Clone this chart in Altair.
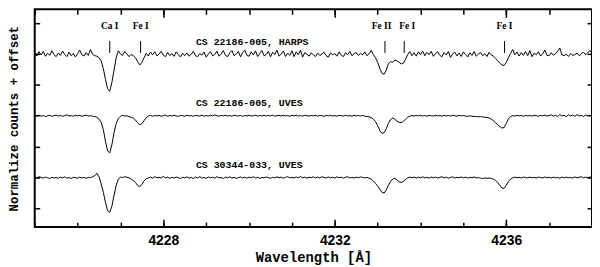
import altair as alt
import pandas as pd

# wavelength grid of the sampled spectra
WAVE_START = 4225.0
WAVE_STEP = 0.05

# normalized flux, CS 22186-005 (HARPS)
harps = [
    1.008, 0.986, 1.014, 0.993, 1.016, 0.984, 1.004, 0.990, 1.020, 0.995,
    0.982, 1.006, 0.990, 1.018, 0.996, 0.982, 1.011, 0.988, 1.003, 0.980,
    1.000, 1.024, 0.994, 0.986, 1.008, 0.990, 1.028, 0.997, 0.988, 0.985,
    0.975, 0.955, 0.905, 0.835, 0.775, 0.758, 0.815, 0.895, 0.975, 1.020,
    1.000, 0.990, 1.015, 1.000, 0.982, 0.996, 0.988, 0.975, 0.950, 0.928,
    0.945, 0.975, 1.004, 0.986, 1.012, 0.993, 1.014, 0.987, 0.998, 1.016,
    0.992, 0.982, 1.009, 0.990, 1.001, 0.984, 1.013, 0.996, 0.980, 1.004,
    0.988, 1.006, 0.985, 0.997, 1.016, 0.988, 0.982, 1.001, 0.992, 1.012,
    0.979, 0.998, 1.014, 0.987, 0.996, 1.018, 0.985, 0.999, 1.021, 0.990,
    0.982, 1.007, 1.022, 0.988, 0.998, 1.016, 0.981, 1.008, 1.024, 0.990,
    0.985, 1.013, 0.993, 1.019, 0.983, 1.003, 1.022, 0.988, 0.996, 1.016,
    0.981, 1.011, 0.995, 1.024, 0.985, 0.999, 1.018, 0.983, 1.005, 0.990,
    1.020, 0.982, 1.013, 0.994, 1.024, 0.979, 1.008, 0.998, 0.985, 1.007,
    0.993, 0.983, 1.005, 0.990, 0.998, 1.011, 0.988, 0.979, 1.006, 0.994,
    1.001, 0.985, 1.013, 0.992, 0.982, 1.007, 0.995, 1.016, 0.988, 1.001,
    1.008, 0.990, 1.003, 0.994, 1.013, 0.988, 1.001, 1.022, 0.995, 0.975,
    0.945, 0.905, 0.875, 0.868, 0.895, 0.935, 0.950, 0.945, 0.960, 0.955,
    0.945, 0.935, 0.940, 0.965, 0.995, 1.015, 0.988, 1.007, 0.985, 1.013,
    0.994, 1.018, 0.988, 1.010, 0.995, 1.016, 0.984, 1.003, 1.013, 0.990,
    0.982, 1.008, 0.993, 1.015, 0.977, 1.000, 1.011, 0.987, 1.006, 0.983,
    1.013, 0.995, 0.980, 1.007, 0.990, 1.015, 0.985, 0.998, 1.009, 0.988,
    1.001, 0.983, 1.010, 0.993, 0.986, 0.970, 0.955, 0.940, 0.928, 0.925,
    0.945, 0.975, 1.002, 1.028, 0.994, 1.012, 0.986, 1.008, 0.990, 1.015,
    0.988, 1.021, 0.982, 1.005, 0.994, 1.013, 0.986, 1.001, 1.025, 0.990,
    0.988, 1.007, 0.991, 1.001, 1.017, 1.038, 0.994, 0.988, 0.998, 0.983,
    1.002, 0.990, 0.995, 1.005, 0.988, 0.998, 1.012, 0.994, 1.006, 1.022, 1.005,
]

# normalized flux, CS 22186-005 (UVES)
uves = [
    1.002, 0.998, 1.004, 0.997, 1.001, 0.995, 0.999, 1.003, 0.996, 1.000,
    1.004, 0.998, 1.002, 0.996, 1.001, 1.005, 0.998, 1.000, 0.997, 1.003,
    0.999, 1.002, 0.996, 1.001, 1.004, 0.998, 1.000, 0.997, 0.995, 0.990,
    0.978, 0.958, 0.910, 0.835, 0.772, 0.760, 0.812, 0.890, 0.950, 0.982,
    0.996, 1.003, 0.998, 1.000, 0.994, 0.990, 0.985, 0.972, 0.955, 0.942,
    0.948, 0.968, 0.988, 0.998, 1.002, 0.997, 1.001, 0.999, 1.003, 0.996,
    1.000, 1.004, 0.997, 1.001, 0.998, 1.003, 0.999, 0.996, 1.002, 1.000,
    0.997, 1.003, 0.999, 1.001, 0.996, 1.002, 1.000, 0.998, 1.004, 0.997,
    1.001, 0.998, 1.003, 0.999, 1.005, 1.000, 0.997, 1.002, 0.999, 1.003,
    0.998, 1.001, 0.997, 1.004, 1.000, 0.998, 1.002, 0.996, 1.001, 0.999,
    1.003, 0.998, 1.000, 1.004, 0.997, 1.001, 0.999, 1.003, 0.998, 1.002,
    0.999, 1.004, 0.997, 1.000, 1.002, 0.998, 1.003, 0.999, 1.001, 0.997,
    1.002, 0.999, 1.004, 0.998, 1.001, 0.997, 1.003, 1.000, 0.998, 1.002,
    0.999, 1.003, 0.997, 1.001, 1.000, 0.996, 1.002, 0.999, 1.003, 0.998,
    1.001, 0.997, 1.002, 1.000, 0.998, 1.003, 0.999, 1.001, 0.997, 1.002,
    0.999, 1.001, 0.998, 1.002, 0.997, 0.995, 0.993, 0.988, 0.978, 0.962,
    0.935, 0.905, 0.886, 0.890, 0.915, 0.950, 0.975, 0.985, 0.978, 0.965,
    0.957, 0.955, 0.963, 0.978, 0.990, 0.997, 1.001, 0.998, 1.002, 0.999,
    1.003, 0.998, 1.001, 0.997, 1.002, 1.000, 0.998, 1.003, 0.999, 1.001,
    0.997, 1.002, 0.999, 1.001, 0.998, 1.003, 1.000, 0.997, 1.002, 0.999,
    1.001, 0.998, 0.996, 0.999, 0.997, 0.995, 0.996, 0.993, 0.994, 0.992,
    0.990, 0.988, 0.985, 0.978, 0.968, 0.955, 0.942, 0.930, 0.920, 0.924,
    0.950, 0.980, 0.995, 1.000, 0.998, 1.002, 0.999, 1.001, 0.997, 1.002,
    0.999, 1.001, 0.998, 1.003, 1.000, 0.997, 1.002, 0.999, 1.004, 0.998,
    1.001, 1.006, 0.997, 1.002, 0.995, 1.008, 0.998, 1.003, 0.994, 1.006,
    0.999, 1.004, 0.996, 1.007, 0.998, 1.002, 0.995, 1.005, 1.000, 1.003, 0.998,
]

# normalized flux, CS 30344-033 (UVES)
cs30344 = [
    1.004, 0.998, 1.006, 1.001, 0.996, 1.003, 0.999, 0.994, 1.002, 0.997,
    1.001, 0.995, 1.003, 0.998, 1.005, 0.996, 1.000, 0.994, 1.002, 0.999,
    0.996, 1.003, 0.998, 1.001, 0.995, 1.002, 0.999, 1.006, 1.012, 1.028,
    1.005, 0.960, 0.905, 0.840, 0.785, 0.776, 0.815, 0.885, 0.950, 0.990,
    1.004, 1.000, 1.006, 1.002, 0.998, 0.990, 0.982, 0.968, 0.950, 0.942,
    0.955, 0.978, 0.992, 0.998, 1.003, 0.996, 1.006, 0.999, 1.002, 0.997,
    1.008, 0.998, 1.003, 0.995, 1.001, 0.997, 1.004, 0.999, 0.994, 1.002,
    0.998, 1.005, 0.996, 1.001, 0.994, 1.003, 0.998, 1.006, 0.997, 1.000,
    0.995, 1.004, 0.999, 1.002, 0.996, 1.006, 0.998, 1.001, 0.994, 1.003,
    0.999, 1.005, 0.997, 1.002, 0.995, 1.000, 1.004, 0.998, 1.002, 0.996,
    1.003, 0.999, 1.006, 0.997, 1.002, 0.995, 1.001, 0.998, 1.004, 0.999,
    0.996, 1.002, 0.998, 1.005, 0.999, 1.003, 0.996, 1.001, 1.006, 0.998,
    1.002, 0.997, 1.004, 0.999, 1.007, 0.998, 1.003, 0.996, 1.002, 1.000,
    1.005, 0.998, 1.003, 0.997, 1.006, 1.000, 0.998, 1.004, 0.999, 1.002,
    0.997, 1.005, 0.999, 1.003, 0.996, 1.002, 1.006, 0.998, 1.001, 0.997,
    1.003, 0.999, 1.004, 1.001, 0.998, 1.002, 0.996, 0.990, 0.978, 0.962,
    0.945, 0.925, 0.905, 0.900, 0.920, 0.950, 0.975, 0.990, 0.996, 0.985,
    0.972, 0.968, 0.975, 0.988, 0.998, 1.003, 0.999, 1.004, 0.997, 1.002,
    0.999, 1.005, 0.998, 1.002, 0.996, 1.004, 0.999, 1.003, 0.997, 1.001,
    1.006, 0.998, 1.003, 0.996, 1.001, 1.005, 0.997, 1.002, 0.999, 1.004,
    0.998, 1.003, 0.997, 1.001, 0.999, 1.004, 0.998, 1.000, 0.996, 0.994,
    0.998, 0.995, 0.997, 0.994, 0.990, 0.982, 0.968, 0.950, 0.932, 0.930,
    0.950, 0.975, 0.990, 0.998, 1.003, 0.999, 1.002, 0.997, 1.004, 1.000,
    0.998, 1.003, 0.999, 1.001, 0.997, 1.003, 1.000, 0.998, 1.004, 0.999,
    1.002, 0.997, 1.003, 0.999, 1.001, 0.996, 1.004, 0.998, 1.003, 0.999,
    1.001, 0.997, 1.004, 0.999, 1.002, 1.006, 0.998, 1.003, 1.000, 1.004, 0.999,
]

spectra = [harps, uves, cs30344]
names = ["CS 22186-005, HARPS", "CS 22186-005, UVES", "CS 30344-033, UVES"]
offsets = [0.2, -0.2, -0.6]
name_y = [1.277, 0.882, 0.479]
NAME_X = 4228.76

line_ids = ["Ca I", "Fe I", "Fe II", "Fe I", "Fe I"]
line_wave = [4226.75, 4227.47, 4233.17, 4233.62, 4235.96]
label_wave = [4226.75, 4227.47, 4233.09, 4233.69, 4235.96]
MARK_Y1, MARK_Y2, MARK_LABEL_Y = 1.206, 1.283, 1.379

x_major = [4228, 4232, 4236]
x_minor = list(range(4225, 4239))
y_ticks = [0.2, 0.4, 0.6, 0.8, 1.0, 1.2, 1.4]

rows = []
for name, flux, off in zip(names, spectra, offsets):
    for i, f in enumerate(flux):
        rows.append({"wave": round(WAVE_START + WAVE_STEP * i, 3), "y": f + off, "series": name})
df = pd.DataFrame(rows)
names_df = pd.DataFrame({"name": names, "wave": [NAME_X] * 3, "y": name_y})
marks_df = pd.DataFrame({"ion": line_ids, "wave": line_wave, "lwave": label_wave})

xs = alt.Scale(domain=[4225, 4238], nice=False, zero=False)
ys = alt.Scale(domain=[0.08, 1.488], nice=False, zero=False)

MONO = "Liberation Mono"
SANS = "Liberation Sans"
SERIF = "Liberation Serif"


def xaxis(orient, values, size, labels=False, title=None):
    kw = dict(orient=orient, values=values, tickSize=alt.ExprRef(expr=str(-size)),
              domain=False, grid=False, labels=labels, tickColor="black", tickWidth=1.5)
    if labels:
        kw.update(format="d", labelFont=SANS, labelFontSize=14, labelFontWeight="bold",
                  labelColor="black", labelPadding=15)
    if title:
        kw.update(title=title, titleFont=MONO, titleFontSize=14, titleFontWeight="bold",
                  titleColor="black", titlePadding=3)
    else:
        kw.update(title=None)
    return alt.Axis(**kw)


def yaxis(orient, title=None):
    kw = dict(orient=orient, values=y_ticks, tickSize=alt.ExprRef(expr="-5"), domain=False,
              grid=False, labels=False, tickColor="black", tickWidth=1.5)
    if title:
        kw.update(title=title, titleFont=MONO, titleFontSize=12.5, titleFontWeight="bold",
                  titleColor="black", titlePadding=14)
    else:
        kw.update(title=None)
    return alt.Axis(**kw)


lines = alt.Chart(df).mark_line(color="black", strokeWidth=1).encode(
    x=alt.X("wave:Q", scale=xs, axis=xaxis("bottom", x_major, 8, labels=True, title="Wavelength [Å]")),
    y=alt.Y("y:Q", scale=ys, axis=yaxis("left", "Normalize counts + offset")),
    detail="series:N",
)

ax2 = alt.Chart(df).mark_point(opacity=0).encode(
    x=alt.X("wave:Q", scale=xs, axis=xaxis("bottom", x_minor, 5)),
    y=alt.Y("y:Q", scale=ys, axis=yaxis("right")),
)
ax3 = alt.Chart(df).mark_point(opacity=0).encode(
    x=alt.X("wave:Q", scale=xs, axis=xaxis("top", x_major, 8)),
    y=alt.Y("y:Q", scale=ys, axis=None),
)
ax4 = alt.Chart(df).mark_point(opacity=0).encode(
    x=alt.X("wave:Q", scale=xs, axis=xaxis("top", x_minor, 5)),
    y=alt.Y("y:Q", scale=ys, axis=None),
)

name_text = alt.Chart(names_df).mark_text(
    align="left", baseline="middle", font=MONO, fontSize=10, fontWeight="bold", color="black"
).encode(
    x=alt.X("wave:Q", scale=xs, axis=None),
    y=alt.Y("y:Q", scale=ys, axis=None),
    text="name:N",
)

mark_rules = alt.Chart(marks_df).mark_rule(color="black", strokeWidth=1).encode(
    x=alt.X("wave:Q", scale=xs, axis=None),
    y=alt.Y("y1:Q", scale=ys, axis=None),
    y2="y2:Q",
).transform_calculate(y1=str(MARK_Y1), y2=str(MARK_Y2))

mark_text = alt.Chart(marks_df).mark_text(
    align="center", baseline="middle", font=SERIF, fontSize=9.5, fontWeight="bold", color="black"
).encode(
    x=alt.X("lwave:Q", scale=xs, axis=None),
    y=alt.Y("ly:Q", scale=ys, axis=None),
    text="ion:N",
).transform_calculate(ly=str(MARK_LABEL_Y))

chart = alt.layer(lines, ax2, ax3, ax4, name_text, mark_rules, mark_text).resolve_axis(
    x="independent", y="independent"
).properties(
    width=563, height=220,
    autosize=alt.AutoSizeParams(type="none"),
    padding={"left": 27, "top": 0, "right": 0, "bottom": 39},
).configure_view(stroke="black", strokeWidth=2)

chart.save("out.html", embed_options={"renderer": "svg", "actions": False})
